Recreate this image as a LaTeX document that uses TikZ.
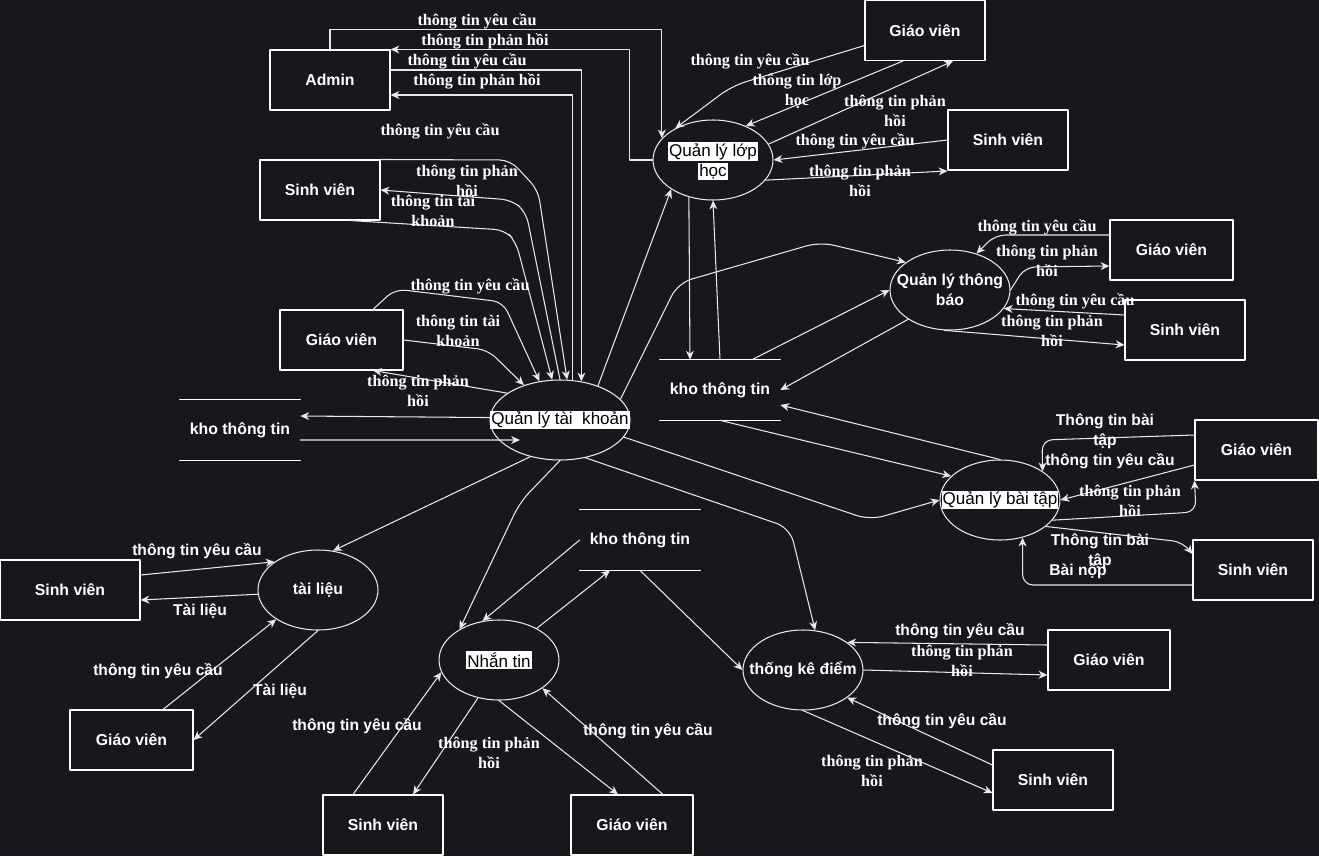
\documentclass[tikz,border=0pt]{standalone}
\usepackage{fontspec}
\setmainfont{Liberation Serif}
\setsansfont{Liberation Sans}
\usetikzlibrary{arrows.meta,shapes.geometric}
\definecolor{bgc}{RGB}{24,23,29}
\definecolor{wire}{RGB}{232,232,232}
\newcommand{\hilite}[1]{{\setlength{\fboxsep}{0.6pt}\colorbox{white}{\textcolor{black}{#1}}}}

\begin{document}
\begin{tikzpicture}[x=0.02cm,y=-0.02cm,line cap=round,line join=round,
  every node/.style={inner sep=1pt},
  ent/.style={draw=white,line width=0.6pt,minimum width=2.4cm,minimum height=1.2cm,text=white,font=\sffamily\bfseries\fontsize{9}{11}\selectfont},
  proc/.style={ellipse,draw=wire,line width=0.6pt,minimum width=2.4cm,minimum height=1.6cm},
  ptxt/.style={text=white,align=center,font=\sffamily\bfseries\fontsize{9}{11.4}\selectfont},
  hl/.style={fill=white,text=black,inner sep=0.6pt,font=\sffamily\fontsize{9.7}{11}\selectfont},
  store/.style={minimum width=2.4cm,minimum height=1.2cm,text=white,font=\sffamily\bfseries\fontsize{9}{11}\selectfont},
  flow/.style={draw=wire,line width=0.6pt,-{Stealth[length=5pt,width=4.5pt,inset=1.5pt]}},
  lbl/.style={text=white,align=center,font=\rmfamily\bfseries\fontsize{9.2}{11.4}\selectfont},
  slbl/.style={text=white,align=center,font=\sffamily\bfseries\fontsize{8.9}{11.4}\selectfont}]
  \fill[bgc] (0,0) rectangle (1319,856);
  \useasboundingbox (0,0) rectangle (1319,856);

  \node[ent] (admin) at (330,80) {Admin};
  \node[ent] (sv1) at (320,190) {Sinh viên};
  \node[ent,minimum width=2.46cm] (gv1) at (341.5,340) {Giáo viên};
  \node[ent] (gvq) at (925,30.5) {Giáo viên};
  \node[ent] (svq) at (1008,140) {Sinh viên};
  \node[ent,minimum width=2.46cm] (gvtb) at (1171.5,250) {Giáo viên};
  \node[ent] (svtb) at (1185,330) {Sinh viên};
  \node[ent,minimum width=2.46cm] (gvbt) at (1256.5,450) {Giáo viên};
  \node[ent] (svbt) at (1253,570) {Sinh viên};
  \node[ent,minimum width=2.44cm] (gvtkd) at (1109,660) {Giáo viên};
  \node[ent] (svtkd) at (1053,780) {Sinh viên};
  \node[ent,minimum width=2.44cm] (gvnt) at (632,825) {Giáo viên};
  \node[ent] (svnt) at (383,825) {Sinh viên};
  \node[ent,minimum width=2.46cm] (gvtl) at (131.5,740) {Giáo viên};
  \node[ent,minimum width=2.8cm] (svtl) at (70,590) {Sinh viên};

  \node[proc,minimum width=2.8cm] (qltk) at (560,420) {};
  \node[proc] (qllh) at (713,160) {};
  \node[proc] (qltb) at (950,290) {};
  \node[proc] (qlbt) at (1000,500) {};
  \node[proc] (tl) at (318,590) {};
  \node[proc] (nt) at (499,660) {};
  \node[proc] (tkd) at (803,670) {};

  \node[hl] (qltkT) at (qltk) {Quản lý tài\ \ khoản};
  \node[ptxt,font=\sffamily\fontsize{9.7}{11.4}\selectfont] (qllhT) at (713,161) {\hilite{Quản lý lớp}\\\hilite{học}};
  \node[ptxt] (qltbT) at (qltb) {Quản lý thông\\báo};
  \node[hl] (qlbtT) at (qlbt) {Quản lý bài tập};
  \node[ptxt] (tlT) at (tl) {tài liệu};
  \node[hl] (ntT) at (nt) {Nhắn tin};
  \node[ptxt] (tkdT) at (tkd) {thống kê điểm};

  \node[store] (kho1) at (240,430) {kho thông tin};
  \node[store] (kho2) at (720,390) {kho thông tin};
  \node[store] (kho3) at (640,540) {kho thông tin};
  \foreach \k in {kho1,kho2,kho3} {
    \draw[draw=white,line width=0.6pt] (\k.north west) -- (\k.north east) (\k.south west) -- (\k.south east);
  }

  \draw[flow] (admin.north) -- ++(0,-20) -| (qllh.157);
  \draw[flow] (qllh.west) -- ++(-23,0) |- (admin.north east);
  \draw[flow] ([yshift=0.2cm]admin.east) -| (qltk.61);
  \draw[flow] (qltk.73) |- ([yshift=-0.3cm]admin.east);
  \draw[flow,rounded corners=6pt] (sv1.north east) -- (510,160) -- (538,190) -- (qltk.80);
  \draw[flow,rounded corners=6pt] (qltk.north) -- (526,212) -- (512,200) -- (sv1.east);
  \draw[flow,rounded corners=6pt] ([xshift=0.6cm]sv1.south) -- (505,230) -- (516,242) -- (qltk.101);
  \draw[flow,rounded corners=6pt] ([xshift=0.63cm]gv1.north) -- (395,289) -- (503,302) -- (qltk.118);
  \draw[flow,rounded corners=6pt] (gv1.east) -- (488,350) -- (qltk.136);
  \draw[flow] (qltk.153) -- ([xshift=0.63cm]gv1.south);
  \draw[flow] (qltk.178) -- ([yshift=0.28cm]kho1.east);
  \draw[flow] ([yshift=-0.2cm]kho1.east) -- ([shift={(-40,20)}]qltk.center);
  \draw[flow] (qltk.42) -- (qllh.215);
  \draw[flow,rounded corners=8pt] (qltk.19) -- (678,283) -- (820,242) -- (qltb.148);
  \draw[flow] (qllh.237) -- ([xshift=-0.6cm]kho2.north);
  \draw[flow] (kho2.north) -- (qllh.south);
  \draw[flow] ([xshift=0.64cm]kho2.north) -- (qltb.west);
  \draw[flow] (qltb.215) -- (kho2.east);
  \draw[flow] (kho2.south) -- (qlbt.154);
  \draw[flow] (qlbt.north) -- ([yshift=-0.3cm]kho2.east);
  \draw[flow,rounded corners=8pt] (qltk.345) -- (870,520) -- (qlbt.west);
  \draw[flow,rounded corners=8pt] (qltk.304) -- (790,528) -- (tkd.73);
  \draw[flow,rounded corners=8pt] (qltk.south) -- (520,502) -- (nt.142);
  \draw[flow] (qltk.231) -- (tl.69);
  \draw[flow] (kho3.west) -- (nt.113);
  \draw[flow] (nt.40) -- ([xshift=-0.6cm]kho3.south);
  \draw[flow] (kho3.south) -- (tkd.west);
  \draw[flow] ([yshift=0.3cm]svtl.east) -- (tl.147);
  \draw[flow] (tl.184) -- ([yshift=-0.2cm]svtl.east);
  \draw[flow] ([xshift=0.63cm]gvtl.north) -- (tl.215);
  \draw[flow] (tl.south) -- (gvtl.east);
  \draw[flow] ([xshift=-0.6cm]svnt.north) -- (nt.192);
  \draw[flow] (nt.241) -- ([xshift=0.6cm]svnt.north);
  \draw[flow] (nt.south) -- ([xshift=-0.28cm]gvnt.north);
  \draw[flow] ([xshift=0.62cm]gvnt.north) -- (nt.327);
  \draw[flow] ([yshift=0.3cm]gvtkd.west) -- (tkd.32);
  \draw[flow] (tkd.east) -- ([yshift=-0.3cm]gvtkd.west);
  \draw[flow] ([yshift=0.3cm]svtkd.west) -- (tkd.328);
  \draw[flow] (tkd.south) -- ([yshift=-0.26cm]svtkd.west);
  \draw[flow,rounded corners=8pt] ([yshift=-0.3cm]gvq.west) -- (732,86) -- (qllh.140);
  \draw[flow] ([xshift=-0.44cm]gvq.south) -- (qllh.46);
  \draw[flow] (qllh.16) -- ([xshift=0.56cm]gvq.south);
  \draw[flow] (svq.west) -- (qllh.east);
  \draw[flow] (qllh.339) -- ([yshift=-0.62cm]svq.west);
  \draw[flow,rounded corners=6pt] ([yshift=0.3cm]gvtb.west) -- (995,235) -- (qltb.54);
  \draw[flow,rounded corners=6pt] (qltb.east) -- (1025,267) -- ([yshift=-0.32cm]gvtb.west);
  \draw[flow] ([yshift=0.3cm]svtb.west) -- (qltb.341);
  \draw[flow] (qltb.262) -- ([yshift=-0.3cm]svtb.west);
  \draw[flow,rounded corners=6pt] ([yshift=0.3cm]gvbt.west) -- (1042,440) -- (qlbt.34);
  \draw[flow] ([yshift=-0.3cm]gvbt.west) -- (qlbt.east);
  \draw[flow,rounded corners=6pt] (qlbt.339) -- (1196,512) -- (gvbt.south west);
  \draw[flow,rounded corners=6pt] (qlbt.330) -- (1183,542) -- ([yshift=0.32cm]svbt.west);
  \draw[flow,rounded corners=6pt] ([yshift=-0.3cm]svbt.west) -| (qlbt.301);

  \node[lbl] (l1) at (477,21) {thông tin yêu cầu};
  \node[lbl] (l2) at (485,41) {thông tin phản hồi};
  \node[lbl] (l3) at (467,61) {thông tin yêu cầu};
  \node[lbl] (l4) at (477,81) {thông tin phản hồi};
  \node[lbl] (l5) at (440,131) {thông tin yêu cầu};
  \node[lbl] (l6) at (467,181) {thông tin phản\\hồi};
  \node[lbl] (l7) at (433,211) {thông tin tài\\khoản};
  \node[lbl] (l8) at (470,286) {thông tin yêu cầu};
  \node[lbl] (l9) at (458,331) {thông tin tài\\khoản};
  \node[lbl] (l10) at (418,391) {thông tin phản\\hồi};
  \node[lbl] (l11) at (750,61) {thông tin yêu cầu};
  \node[lbl] (l12) at (797,91) {thông tin lớp\\học};
  \node[lbl] (l13) at (895,111) {thông tin phản\\hồi};
  \node[lbl] (l14) at (855,141) {thông tin yêu cầu};
  \node[lbl] (l15) at (860,181) {thông tin phản\\hồi};
  \node[lbl] (l16) at (1037,227) {thông tin yêu cầu};
  \node[lbl] (l17) at (1047,261) {thông tin phản\\hồi};
  \node[lbl] (l18) at (1075,301) {thông tin yêu cầu};
  \node[lbl] (l19) at (1052,331) {thông tin phản\\hồi};
  \node[slbl] (l20) at (1105,431) {Thông tin bài\\tập};
  \node[slbl] (l21) at (1110,461) {thông tin yêu cầu};
  \node[lbl] (l22) at (1130,501) {thông tin phản\\hồi};
  \node[slbl] (l23) at (1100,551) {Thông tin bài\\tập};
  \node[slbl] (l24) at (1078,571) {Bài nộp};
  \node[slbl] (l25) at (197,551) {thông tin yêu cầu};
  \node[slbl] (l26) at (200,611) {Tài liệu};
  \node[slbl] (l27) at (158,671) {thông tin yêu cầu};
  \node[slbl] (l28) at (280,691) {Tài liệu};
  \node[slbl] (l29) at (357,726) {thông tin yêu cầu};
  \node[lbl] (l30) at (489,753) {thông tin phản\\hồi};
  \node[slbl] (l31) at (648,731) {thông tin yêu cầu};
  \node[slbl] (l32) at (960,631) {thông tin yêu cầu};
  \node[lbl] (l33) at (962,661) {thông tin phản\\hồi};
  \node[slbl] (l34) at (942,721) {thông tin yêu cầu};
  \node[lbl] (l35) at (872,771) {thông tin phản\\hồi};
\end{tikzpicture}
\end{document}
